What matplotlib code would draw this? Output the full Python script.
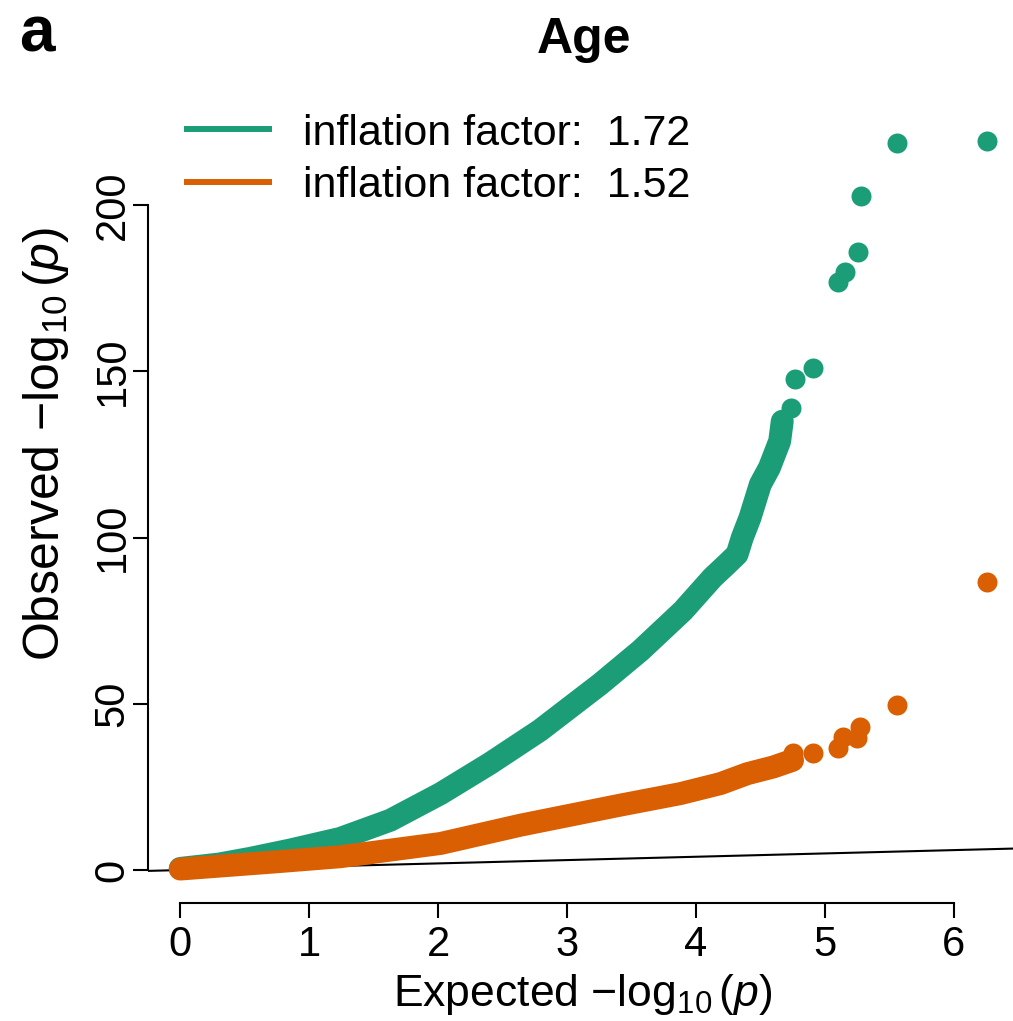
import matplotlib.pyplot as plt
from matplotlib.lines import Line2D

# --- data (expected vs observed -log10 p) ---
green_band_x = [0.0, 0.3, 0.54, 0.85, 1.24, 1.63, 2.02, 2.4, 2.79, 3.26, 3.57, 3.9, 4.13,
                4.24, 4.32, 4.36, 4.42, 4.46, 4.5, 4.57, 4.65, 4.67]
green_band_y = [0.5, 1.8, 3.5, 6, 9.5, 15, 23, 32, 42, 56, 66, 78, 88,
                92, 95, 100, 106, 111, 116, 121, 129, 135]
green_tail_x = [4.74, 4.77, 4.91, 5.10, 5.16, 5.26, 5.28, 5.56, 6.26]
green_tail_y = [139, 147.7, 151, 176.8, 179.8, 185.9, 202.7, 218.6, 219.2]

orange_band_x = [0.0, 0.72, 1.24, 2.02, 2.64, 3.41, 3.88, 4.19, 4.40, 4.6, 4.75]
orange_band_y = [0.3, 2.4, 4, 8, 13.5, 19.5, 23, 26, 29, 31, 33]
orange_tail_x = [4.75, 4.91, 5.10, 5.14, 5.25, 5.27, 5.56, 6.26]
orange_tail_y = [35.2, 35.2, 36.7, 40, 39.7, 43, 49.6, 86.6]

lambdas = ['1.72', '1.52']
x_ticks = [0, 1, 2, 3, 4, 5, 6]
y_ticks = [0, 50, 100, 150, 200]

GREEN = '#1b9e77'
ORANGE = '#d95f02'

plt.rcParams['font.family'] = ['Liberation Sans', 'DejaVu Sans']
plt.rcParams['mathtext.fontset'] = 'custom'
plt.rcParams['mathtext.rm'] = 'Liberation Sans'
plt.rcParams['mathtext.it'] = 'Liberation Sans:italic'
plt.rcParams['mathtext.bf'] = 'Liberation Sans:bold'

DOT = 14.4   # marker diameter in points (~20 px)
BAND = 16.5  # the dense part reads a bit thicker

fig = plt.figure(figsize=(10.13, 10.21), dpi=100)
ax = fig.add_axes([0.1461, 0.1156, 0.8539, 0.7776])

# reference line y = x
ax.plot([-1, 8], [-1, 8], color='black', lw=1.5, zorder=1)

# green series
ax.plot(green_band_x, green_band_y, color=GREEN, lw=BAND, solid_capstyle='round',
        solid_joinstyle='round', zorder=2)
ax.plot(green_tail_x, green_tail_y, 'o', color=GREEN, ms=DOT, mec='none', zorder=2)

# orange series on top
ax.plot(orange_band_x, orange_band_y, color=ORANGE, lw=BAND, solid_capstyle='round',
        solid_joinstyle='round', zorder=3)
ax.plot(orange_tail_x, orange_tail_y, 'o', color=ORANGE, ms=DOT, mec='none', zorder=3)

ax.set_xlim(-0.25, 6.46)
ax.set_ylim(-9.9, 228.9)

# R-style axes
for side in ['top', 'right']:
    ax.spines[side].set_visible(False)
ax.spines['left'].set_bounds(0, 200)
ax.spines['bottom'].set_bounds(0, 6)
ax.spines['left'].set_linewidth(1.5)
ax.spines['bottom'].set_linewidth(1.5)
ax.set_xticks(x_ticks)
ax.set_yticks(y_ticks)
ax.set_xticklabels([str(t) for t in x_ticks])
ax.set_yticklabels([str(t) for t in y_ticks], rotation=90, va='center')
ax.tick_params(axis='both', length=11, width=1.5, labelsize=30)
ax.tick_params(axis='x', pad=5)
ax.tick_params(axis='y', pad=0)

fig.text(0.5755, 0.026, r'Expected $-\log_{10}(p)$', fontsize=32, ha='center', va='center')
fig.text(0.045, 0.565, r'Observed $-\log_{10}(p)$', fontsize=36, ha='center', va='center',
         rotation=90)
fig.text(0.5765, 0.961, 'Age', fontsize=36, fontweight='bold', ha='center', va='center')
fig.text(0.036, 0.966, 'a', fontsize=46, fontweight='bold', ha='center', va='center')

handles = [Line2D([0], [0], color=GREEN, lw=4.3), Line2D([0], [0], color=ORANGE, lw=4.3)]
labels = ['inflation factor:  ' + v for v in lambdas]
ax.legend(handles, labels, loc='upper left', bbox_to_anchor=(0.025, 1.016), frameon=False,
          fontsize=31, handlelength=1.9, handletextpad=0.8, labelspacing=0.29,
          borderaxespad=0.0)

fig.savefig('out.png', dpi=100)
